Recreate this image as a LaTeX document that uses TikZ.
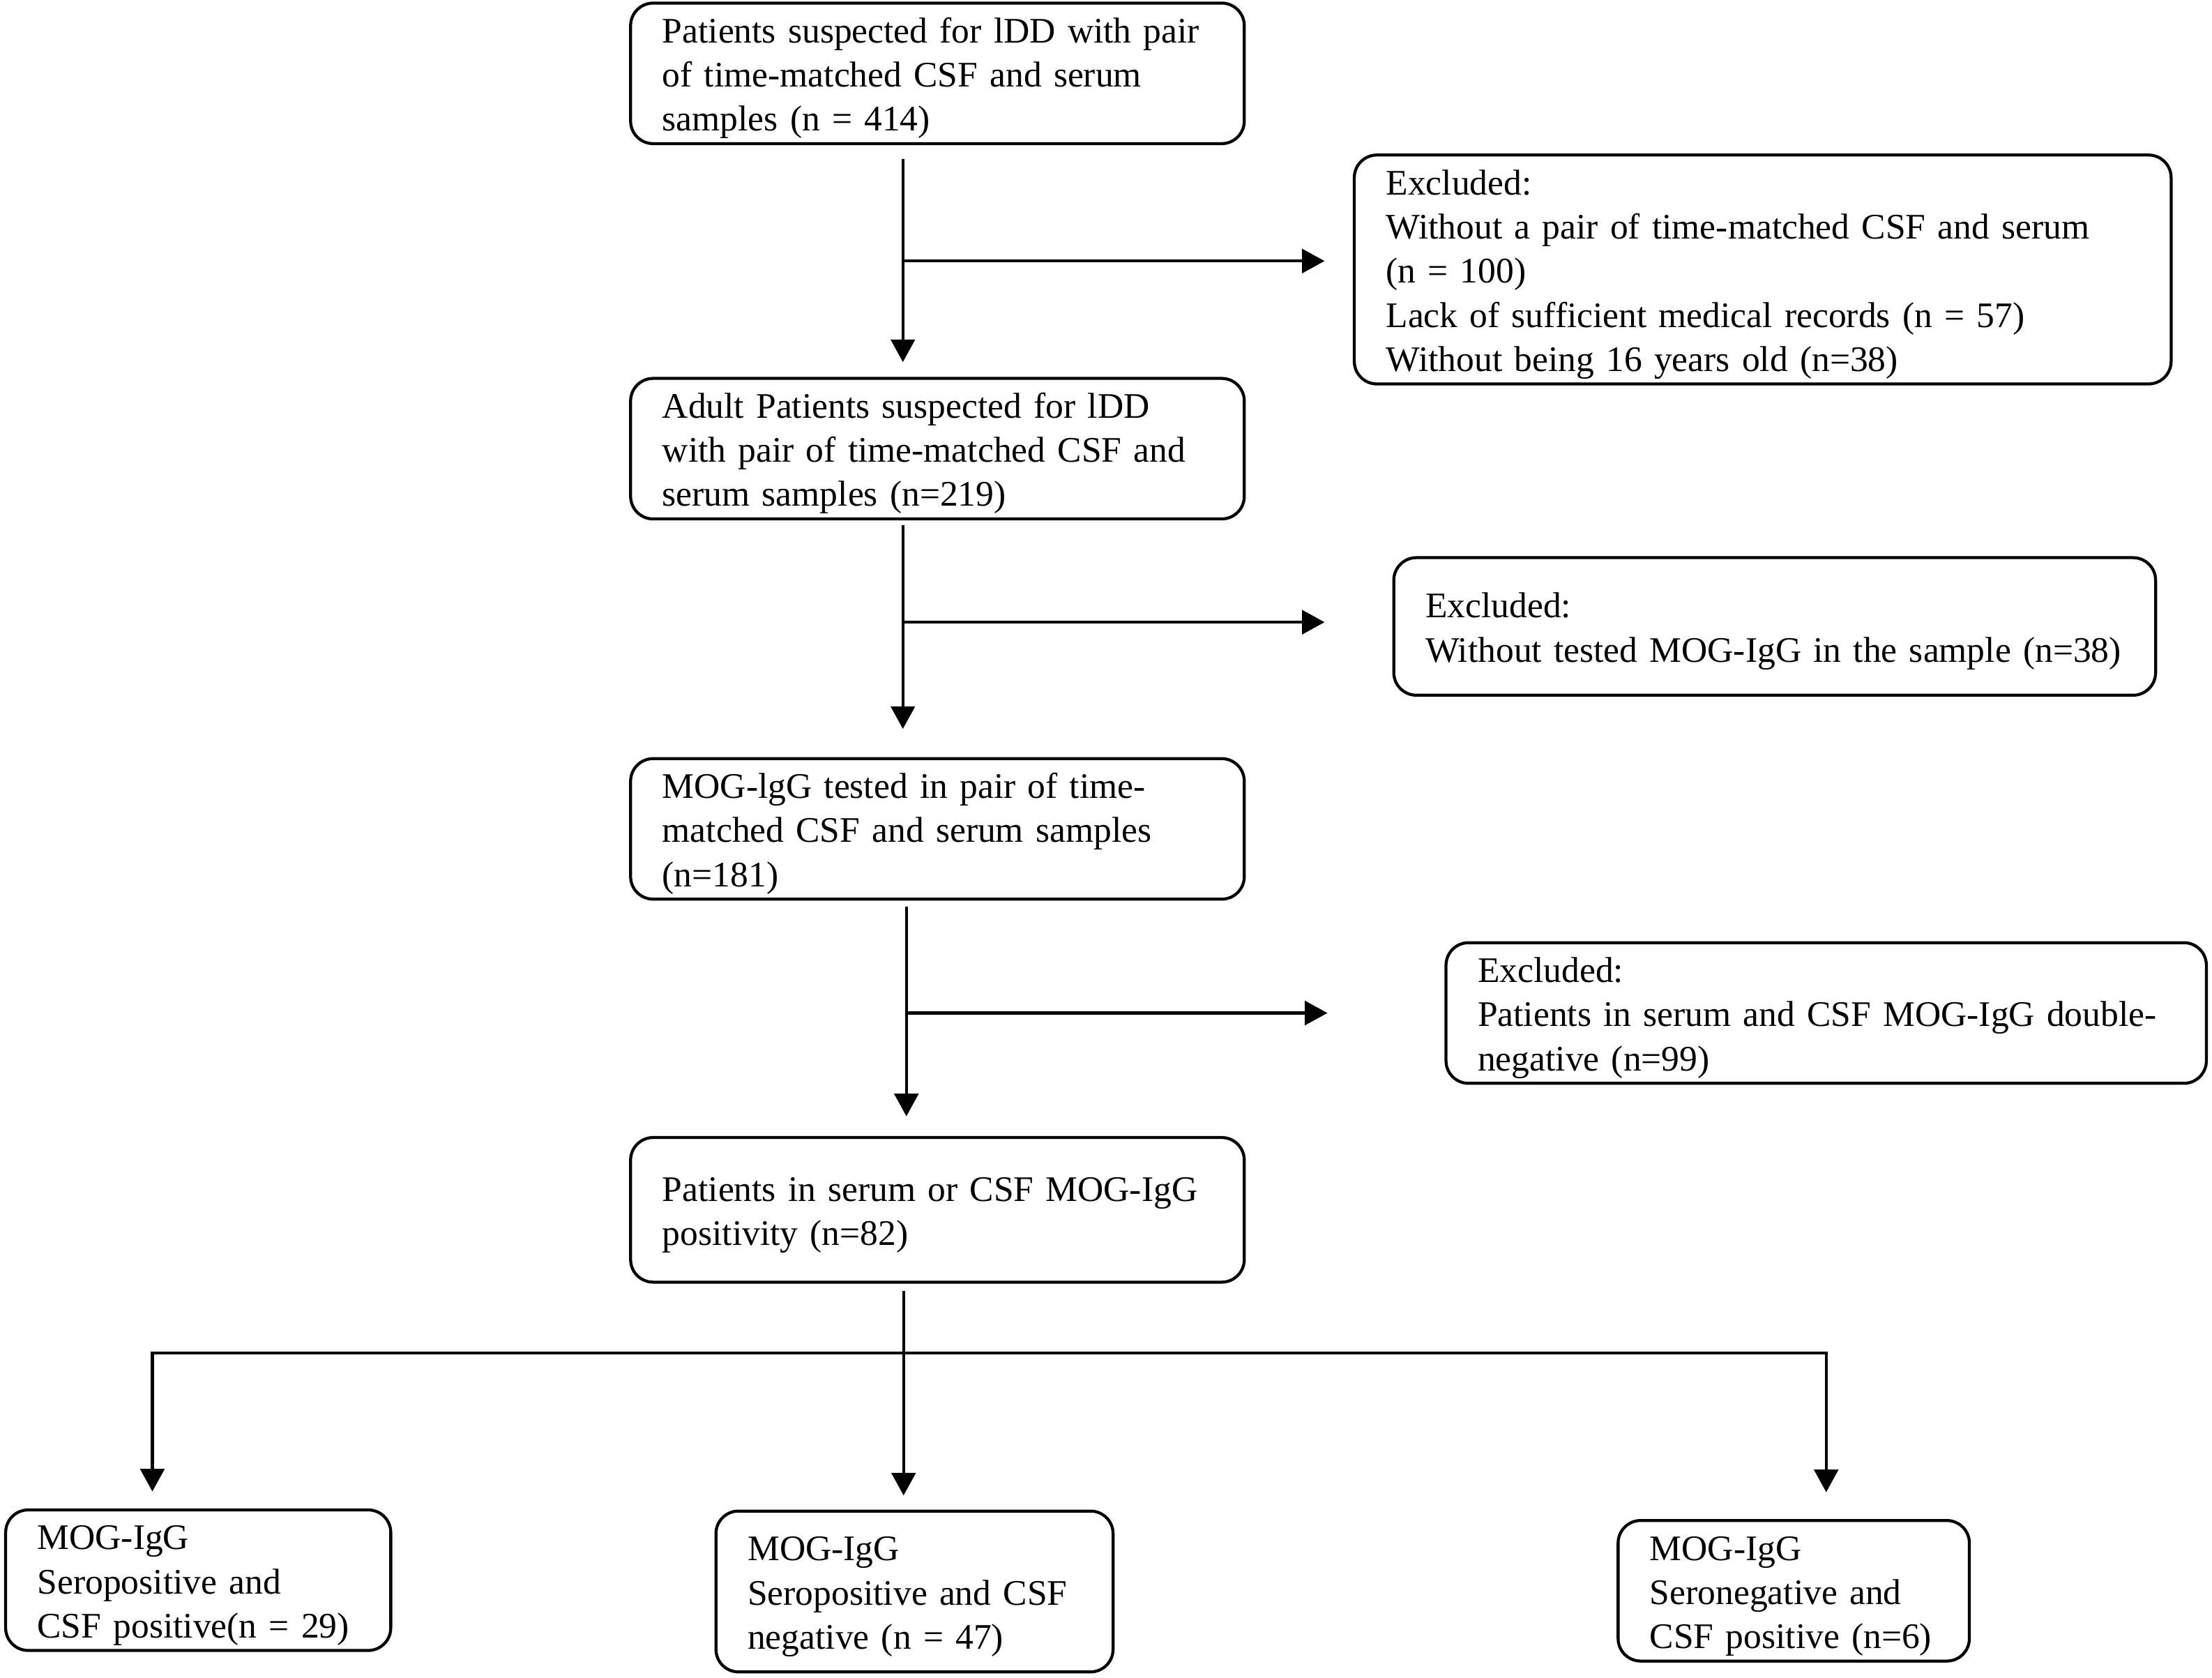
\documentclass[tikz,border=0pt]{standalone}
\usepackage{fontspec}
\setmainfont{Liberation Serif}
\usetikzlibrary{arrows.meta}

\begin{document}
\begin{tikzpicture}[
		box/.style={draw, rounded corners=0.32cm, line width=1.2pt, align=left,
			inner xsep=0.45cm, inner ysep=2pt, text height=14pt,
			font=\fontsize{14.5}{17.8}\selectfont},
		link/.style={line width=1.15pt},
		arr/.style={link, -{Triangle[length=0.32cm, width=0.34cm]}}]
		\useasboundingbox (0,0) rectangle (31.36,-23.78);
		\node[box, text width=7.8cm, minimum height=1.97cm] (a1) at (13.29,-1.04)
			{Patients suspected for lDD with pair\\of time-matched CSF and serum\\samples (n = 414)};
		\node[box, text width=10.68cm, minimum height=3.13cm] (e1) at (24.99,-3.82)
			{Excluded:\\Without a pair of time-matched CSF and serum\\(n = 100)\\Lack of sufficient medical records (n = 57)\\Without being 16 years old (n=38)};
		\node[box, text width=7.8cm, minimum height=1.98cm] (a2) at (13.29,-6.36)
			{Adult Patients suspected for lDD\\with pair of time-matched CSF and\\serum samples (n=219)};
		\node[box, text width=9.9cm, minimum height=1.95cm] (e2) at (25.16,-8.88)
			{Excluded:\\Without tested MOG-IgG in the sample (n=38)};
		\node[box, text width=7.8cm, minimum height=1.98cm] (a3) at (13.29,-11.75)
			{MOG-lgG tested in pair of time-\\matched CSF and serum samples\\(n=181)};
		\node[box, text width=9.88cm, minimum height=1.93cm] (e3) at (25.89,-14.36)
			{Excluded:\\Patients in serum and CSF MOG-IgG double-\\negative (n=99)};
		\node[box, text width=7.8cm, minimum height=2.05cm] (a4) at (13.29,-17.15)
			{Patients in serum or CSF MOG-IgG\\positivity (n=82)};
		\node[box, text width=4.56cm, minimum height=1.96cm] (b1) at (2.81,-22.4)
			{MOG-IgG\\Seropositive and\\CSF positive(n = 29)};
		\node[box, text width=4.73cm, minimum height=2.28cm] (b2) at (12.965,-22.56)
			{MOG-IgG\\Seropositive and CSF\\negative (n = 47)};
		\node[box, text width=4.08cm, minimum height=1.97cm] (b3) at (25.43,-22.55)
			{MOG-IgG\\Seronegative and\\CSF positive (n=6)};
		\coordinate (t1) at (12.8,-3.7);
		\coordinate (t2) at (12.8,-8.82);
		\coordinate (t3) at (12.85,-14.36);
		\coordinate (t4) at (12.81,-19.18);
		\coordinate (dl) at (2.16,-19.18);
		\coordinate (dr) at (25.89,-19.18);
		\draw[arr, shorten <=0.2cm, shorten >=0.21cm] (t1 |- a1.south) -- (t1 |- a2.north);
		\draw[arr, shorten >=0.4cm] (t1) -- (t1 -| e1.west);
		\draw[arr, shorten <=0.07cm, shorten >=0.4cm] (t2 |- a2.south) -- (t2 |- a3.north);
		\draw[arr, shorten >=0.96cm] (t2) -- (t2 -| e2.west);
		\draw[arr, shorten <=0.08cm, shorten >=0.28cm] (t3 |- a3.south) -- (t3 |- a4.north);
		\draw[arr, shorten >=1.66cm] (t3) -- (t3 -| e3.west);
		\draw[arr, shorten <=0.1cm, shorten >=0.2cm] (t4 |- a4.south) -- (t4 |- b2.north);
		\draw[arr, shorten >=0.24cm] (dr) -- (dl) -- (dl |- b1.north);
		\draw[arr, shorten >=0.38cm] (dl) -- (dr) -- (dr |- b3.north);
\end{tikzpicture}
\end{document}
